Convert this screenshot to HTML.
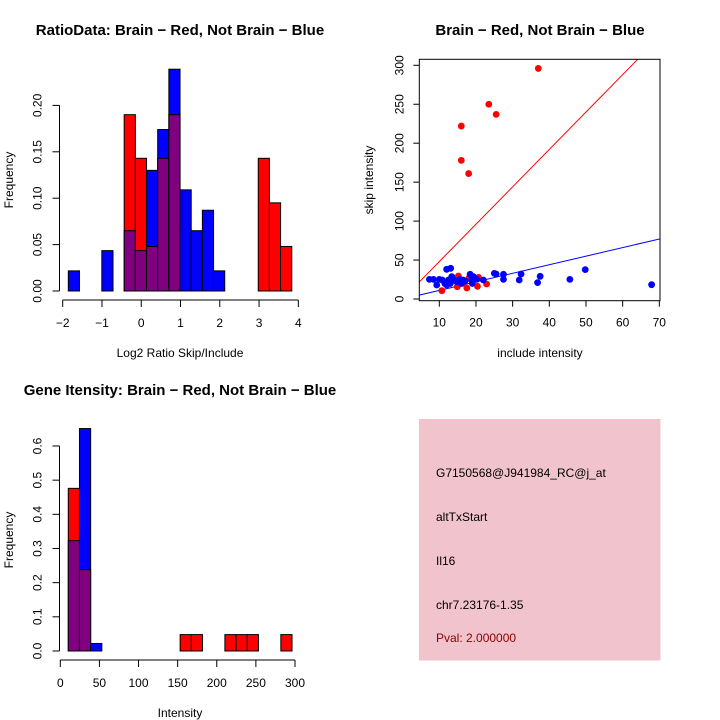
<!DOCTYPE html>
<html><head><meta charset="utf-8"><style>
body{margin:0;background:#fff}
svg{display:block;font-family:"Liberation Sans",sans-serif}
</style></head><body>
<svg id="s" width="720" height="720" viewBox="0 0 720 720" xmlns="http://www.w3.org/2000/svg">
<rect width="720" height="720" fill="#fff"/>
<g id="g"></g>
<g>
<rect x="419" y="419" width="241.5" height="241.5" fill="#f1c3cd"/>
<text x="436" y="477" font-size="12" fill="#000">G7150568@J941984_RC@j_at</text>
<text x="436" y="521" font-size="12" fill="#000">altTxStart</text>
<text x="436" y="565" font-size="12" fill="#000">Il16</text>
<text x="436" y="609" font-size="12" fill="#000">chr7.23176-1.35</text>
<text x="436" y="642" font-size="12" fill="#8b0000">Pval: 2.000000</text>
</g>
</svg>
<script>
// Histogram 1 data (Log2 ratio)
const h1Start = -1.857, h1Width = 0.2845;
const h1Blue = [0.0217,0,0,0.0435,0,0.065,0.0435,0.13,0.174,0.239,0.109,0.065,0.087,0.0217,0,0,0,0,0,0,0];
const h1Red  = [0,0,0,0,0,0.19,0.143,0.048,0.143,0.19,0,0,0,0,0,0,0,0.143,0.095,0.048,0];
const h1XTicks = [-2,-1,0,1,2,3,4];
const h1YTicks = ["0.00","0.05","0.10","0.15","0.20"];
// Histogram 2 data (intensity)
const h2Start = 10.2, h2Width = 14.3;
const h2Blue = [0.323,0.651,0.022,0,0,0,0,0,0,0,0,0,0,0,0,0,0,0,0,0];
const h2Red  = [0.476,0.238,0,0,0,0,0,0,0,0,0.048,0.048,0,0,0.048,0.048,0.048,0,0,0.048];
const h2XTicks = [0,50,100,150,200,250,300];
const h2YTicks = ["0.0","0.1","0.2","0.3","0.4","0.5","0.6"];
// Scatter data
const redX = [37,23.5,25.5,16,16,18,10.7,15.2,14.9,17.5,18.1,20.4,20.7,22.9,16.5,12.9];
const redY = [296,250,237,222,178,161,10.7,29.5,15.8,14.1,27,16.3,27.8,19.3,20.1,20.1];
const blueX = [7.3,8.4,9.3,10,10.8,12,13.1,12,12.5,13.4,14,14.7,15.6,16.5,18.4,18.8,19.3,20.2,22,25,25.5,27.5,27.5,31.8,32.3,36.8,37.5,45.6,49.8,67.9,11.5,13,16,19,17];
const blueY = [25.2,25.2,18,25.2,24.4,38.1,39.4,18,24.4,28.7,24.4,22.3,25.2,24.4,31.7,24.4,28.7,25.2,24.4,32.9,32.1,25.2,31.7,24.4,32.1,21,29.1,25.2,37.7,18.4,20,20,20,20,23];
const redSlope = 4.8, blueSlope = 1.1;
const sXTicks = [10,20,30,40,50,60,70];
const sYTicks = [0,50,100,150,200,250,300];

const NS="http://www.w3.org/2000/svg", G=document.getElementById('g');
function mk(t,a,p){const e=document.createElementNS(NS,t);for(const k in a)e.setAttribute(k,a[k]);(p||G).appendChild(e);return e;}
function txt(x,y,s,size,rot,bold,anchor){const e=mk('text',{x:x,y:y,'font-size':size,'text-anchor':anchor||'middle'});if(rot)e.setAttribute('transform','rotate(-90 '+x+' '+y+')');if(bold)e.setAttribute('font-weight','bold');e.textContent=s;return e;}

function hist(o){
  const xs=v=>o.x0+(v-o.v0)*o.kx, ys=v=>o.y0-v*o.ky;
  const n=o.blue.length;
  for(let i=0;i<n;i++){
    const l=xs(o.start+i*o.w), r=xs(o.start+(i+1)*o.w);
    const b=o.blue[i], rd=o.red[i];
    const top=Math.max(b,rd);
    if(top<=0) continue;
    const first = b>=rd ? ['#0000ff',b] : ['#ff0000',rd];
    let e=mk('rect',{x:l,y:ys(first[1]),width:r-l,height:ys(0)-ys(first[1]),fill:first[0],stroke:'#000','stroke-width':1});
    
    
    const mn=Math.min(b,rd);
    if(mn>0){
      e=mk('rect',{x:l,y:ys(mn),width:r-l,height:ys(0)-ys(mn),fill:'#800080',stroke:'#000','stroke-width':1});
      
      
    }
  }
  const ax=o.xt;
  mk('line',{x1:xs(ax[0]),x2:xs(ax[ax.length-1]),y1:o.axY,y2:o.axY,stroke:'#000'});
  ax.forEach(t=>{mk('line',{x1:xs(t),x2:xs(t),y1:o.axY,y2:o.axY+7,stroke:'#000'});
    const e=txt(xs(t),o.axY+27,String(t).replace('-','\u2212'),12);
    
    });
  const yv=o.yt.map(Number);
  mk('line',{x1:o.axX,x2:o.axX,y1:ys(yv[0]),y2:ys(yv[yv.length-1]),stroke:'#000'});
  o.yt.forEach(t=>{const y=ys(Number(t));mk('line',{x1:o.axX,x2:o.axX-7,y1:y,y2:y,stroke:'#000'});
    const e=txt(o.axX-18,y,t,12,true);
    
    });
}

hist({id:'ratio',x0:62.7,v0:-2,kx:39.27,y0:291,ky:928,start:h1Start,w:h1Width,blue:h1Blue,red:h1Red,xt:h1XTicks,yt:h1YTicks,axY:300,axX:59.5});
hist({id:'intensity',x0:60.3,v0:0,kx:0.7823,y0:651,ky:341.7,start:h2Start,w:h2Width,blue:h2Blue,red:h2Red,xt:h2XTicks,yt:h2YTicks,axY:660,axX:59.5});

let e;
e=txt(180,35,'RatioData: Brain \u2212 Red, Not Brain \u2212 Blue',15,false,true);

e=txt(540,35,'Brain \u2212 Red, Not Brain \u2212 Blue',15,false,true);

e=txt(180,395,'Gene Itensity: Brain \u2212 Red, Not Brain \u2212 Blue',15,false,true);

e=txt(180,357,'Log2 Ratio Skip/Include',12);

e=txt(13,180,'Frequency',12,true);

e=txt(13,540,'Frequency',12,true);

e=txt(180,717,'Intensity',12);

e=txt(540,357,'include intensity',12);

e=txt(373,180,'skip intensity',12,true);


(function(){
  const L=419.3,R=660,T=59.3,B=300.7;
  const xs=v=>439.3+(v-10)*3.667, ys=v=>299-v*0.779;
  const cp=mk('clipPath',{id:'cp'});mk('rect',{x:L,y:T,width:R-L,height:B-T},cp);
  const lg=mk('g',{'clip-path':'url(#cp)'});
  const x0=4.5,x1=70.5;
  let l=mk('line',{x1:xs(x0),y1:ys(redSlope*x0),x2:xs(x1),y2:ys(redSlope*x1),stroke:'#ff0000','stroke-width':1},lg);
  
  l=mk('line',{x1:xs(x0),y1:ys(blueSlope*x0),x2:xs(x1),y2:ys(blueSlope*x1),stroke:'#0000ff','stroke-width':1},lg);
  
  for(let i=0;i<redX.length;i++){
    const c=mk('circle',{cx:xs(redX[i]),cy:ys(redY[i]),r:3.4,fill:'#ff0000'});
    
    
  }
  for(let i=0;i<blueX.length;i++){
    const c=mk('circle',{cx:xs(blueX[i]),cy:ys(blueY[i]),r:3.4,fill:'#0000ff'});
    
    
  }
  const b=mk('rect',{x:L,y:T,width:R-L,height:B-T,fill:'none',stroke:'#000'});
  
  sXTicks.forEach(t=>{mk('line',{x1:xs(t),x2:xs(t),y1:B,y2:B+6,stroke:'#000'});
    const e=txt(xs(t),B+26,String(t),12);
    });
  sYTicks.forEach(t=>{mk('line',{x1:L,x2:L-6,y1:ys(t),y2:ys(t),stroke:'#000'});
    const e=txt(L-16,ys(t),String(t),12,true);
    });
})();
</script>
</body></html>
